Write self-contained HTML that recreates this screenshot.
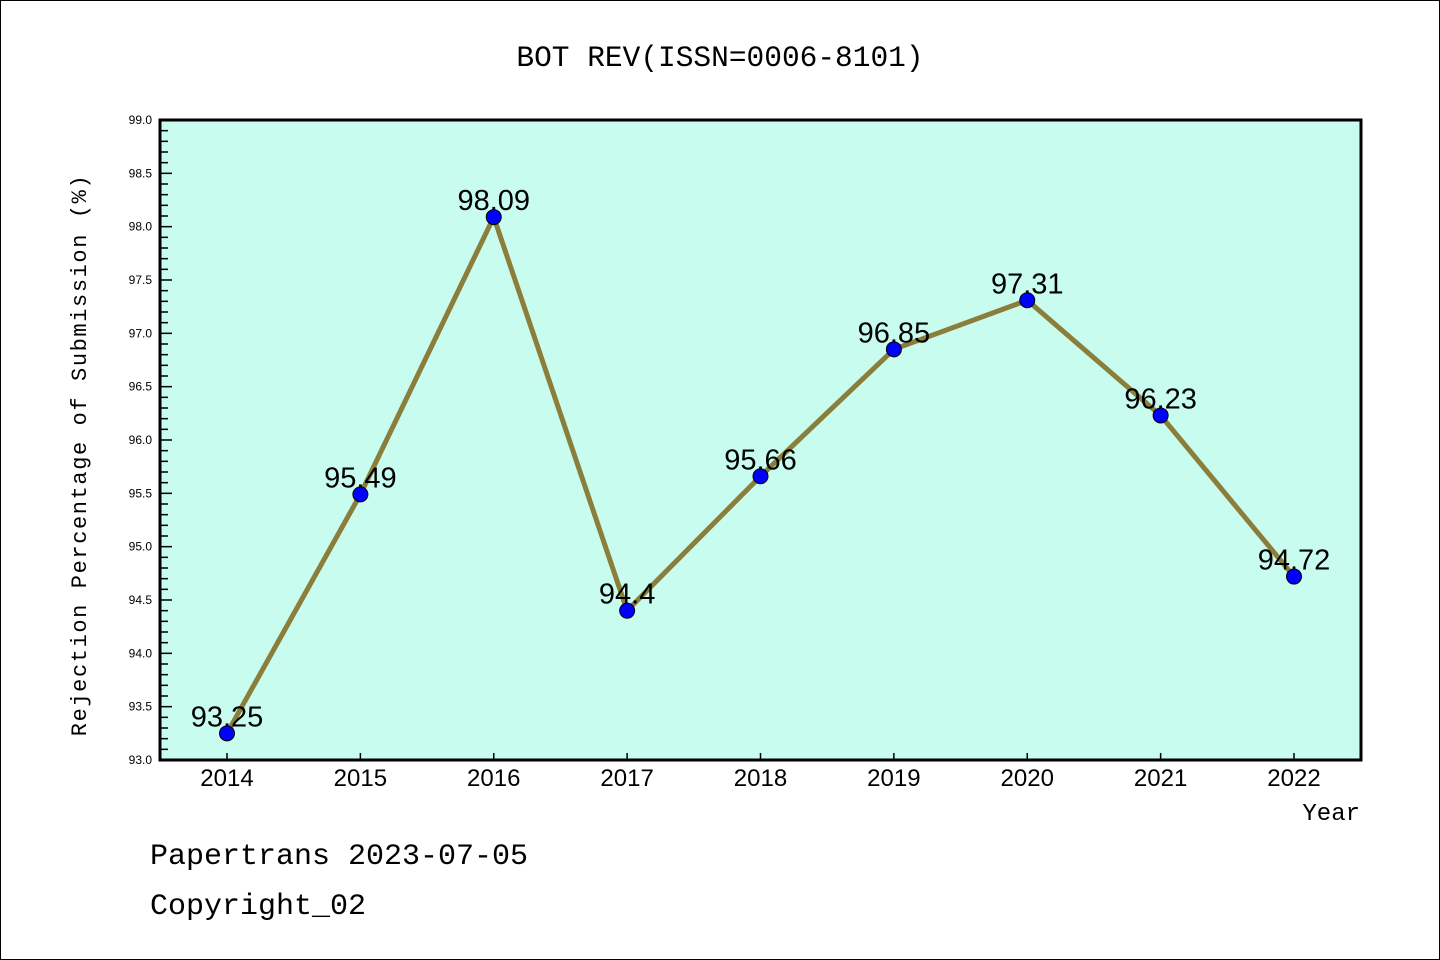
<!DOCTYPE html>
<html><head><meta charset="utf-8"><style>
html,body{margin:0;padding:0;background:#fff;}
svg{display:block;font-family:"Liberation Sans","DejaVu Sans",sans-serif;}
</style></head><body>
<svg id="chart" width="1440" height="960" viewBox="0 0 1440 960">
<rect x="0.5" y="0.5" width="1439" height="959" fill="#fff" stroke="#000" stroke-width="1"/>
<text x="720" y="66" text-anchor="middle" font-size="29.5" font-family="Liberation Mono, monospace">BOT REV(ISSN=0006-8101)</text>
<rect x="160" y="120" width="1201" height="640" fill="#c8fcee"/>
<g id="axes"></g>
<g id="marks"></g>
<rect x="160" y="120" width="1201" height="640" fill="none" stroke="#000" stroke-width="3"/>
<text x="86" y="455" text-anchor="middle" font-size="22" font-family="Liberation Mono, monospace" letter-spacing="1.6" transform="rotate(-90 86 455)">Rejection Percentage of Submission (%)</text>
<text x="1360" y="820" text-anchor="end" font-size="24" font-family="Liberation Mono, monospace">Year</text>
<text x="150" y="864" font-size="30" font-family="Liberation Mono, monospace">Papertrans 2023-07-05</text>
<text x="150" y="914" font-size="30" font-family="Liberation Mono, monospace">Copyright_02</text>
</svg>
<script>
const years = [2014, 2015, 2016, 2017, 2018, 2019, 2020, 2021, 2022];
const rates = [93.25, 95.49, 98.09, 94.4, 95.66, 96.85, 97.31, 96.23, 94.72];
const rateLabels = ["93.25", "95.49", "98.09", "94.4", "95.66", "96.85", "97.31", "96.23", "94.72"];
const yTicks = ["93.0", "93.5", "94.0", "94.5", "95.0", "95.5", "96.0", "96.5", "97.0", "97.5", "98.0", "98.5", "99.0"];
const yMin = 93, yMax = 99;
const NS = "http://www.w3.org/2000/svg";
function xs(i){ return 227 + i * (1294 - 227) / (years.length - 1); }
function ys(v){ return 760 - (v - yMin) / (yMax - yMin) * 640; }
function mk(tag, attrs, parent){ const e = document.createElementNS(NS, tag); for (const k in attrs) e.setAttribute(k, attrs[k]); parent.appendChild(e); return e; }
const axes = document.getElementById('axes'), marks = document.getElementById('marks');
for (let k = 0; k <= 60; k++) {
  const v = yMin + k * 0.1, y = ys(v), major = k % 5 === 0;
  const t = mk('line', {x1:160, x2:160 + (major ? 12 : 8), y1:y, y2:y, stroke:'#000', 'stroke-width':1.5}, axes);
  
  
}
yTicks.forEach(s => {
  const t = mk('text', {x:152, y:ys(parseFloat(s)) + 4, 'text-anchor':'end', 'font-size':12}, axes);
  t.textContent = s;
  
  
});
years.forEach((yr, i) => {
  const t = mk('line', {x1:xs(i), x2:xs(i), y1:760, y2:753, stroke:'#000', 'stroke-width':1.5}, axes);
  
  
  const l = mk('text', {x:xs(i), y:786, 'text-anchor':'middle', 'font-size':24}, axes);
  l.textContent = yr;
  
  
});
const pts = rates.map((v, i) => xs(i) + ',' + ys(v)).join(' ');
const line = mk('polyline', {points:pts, fill:'none', stroke:'#8b7d3a', 'stroke-width':5, 'stroke-linejoin':'round'}, marks);


rates.forEach((v, i) => {
  const c = mk('circle', {cx:xs(i), cy:ys(v), r:7.5, fill:'#0000ff', stroke:'#000', 'stroke-width':1}, marks);
  
  
  const l = mk('text', {x:xs(i), y:ys(v) - 7, 'text-anchor':'middle', 'font-size':29}, marks);
  l.textContent = rateLabels[i];
  
  
});
</script>
</body></html>
